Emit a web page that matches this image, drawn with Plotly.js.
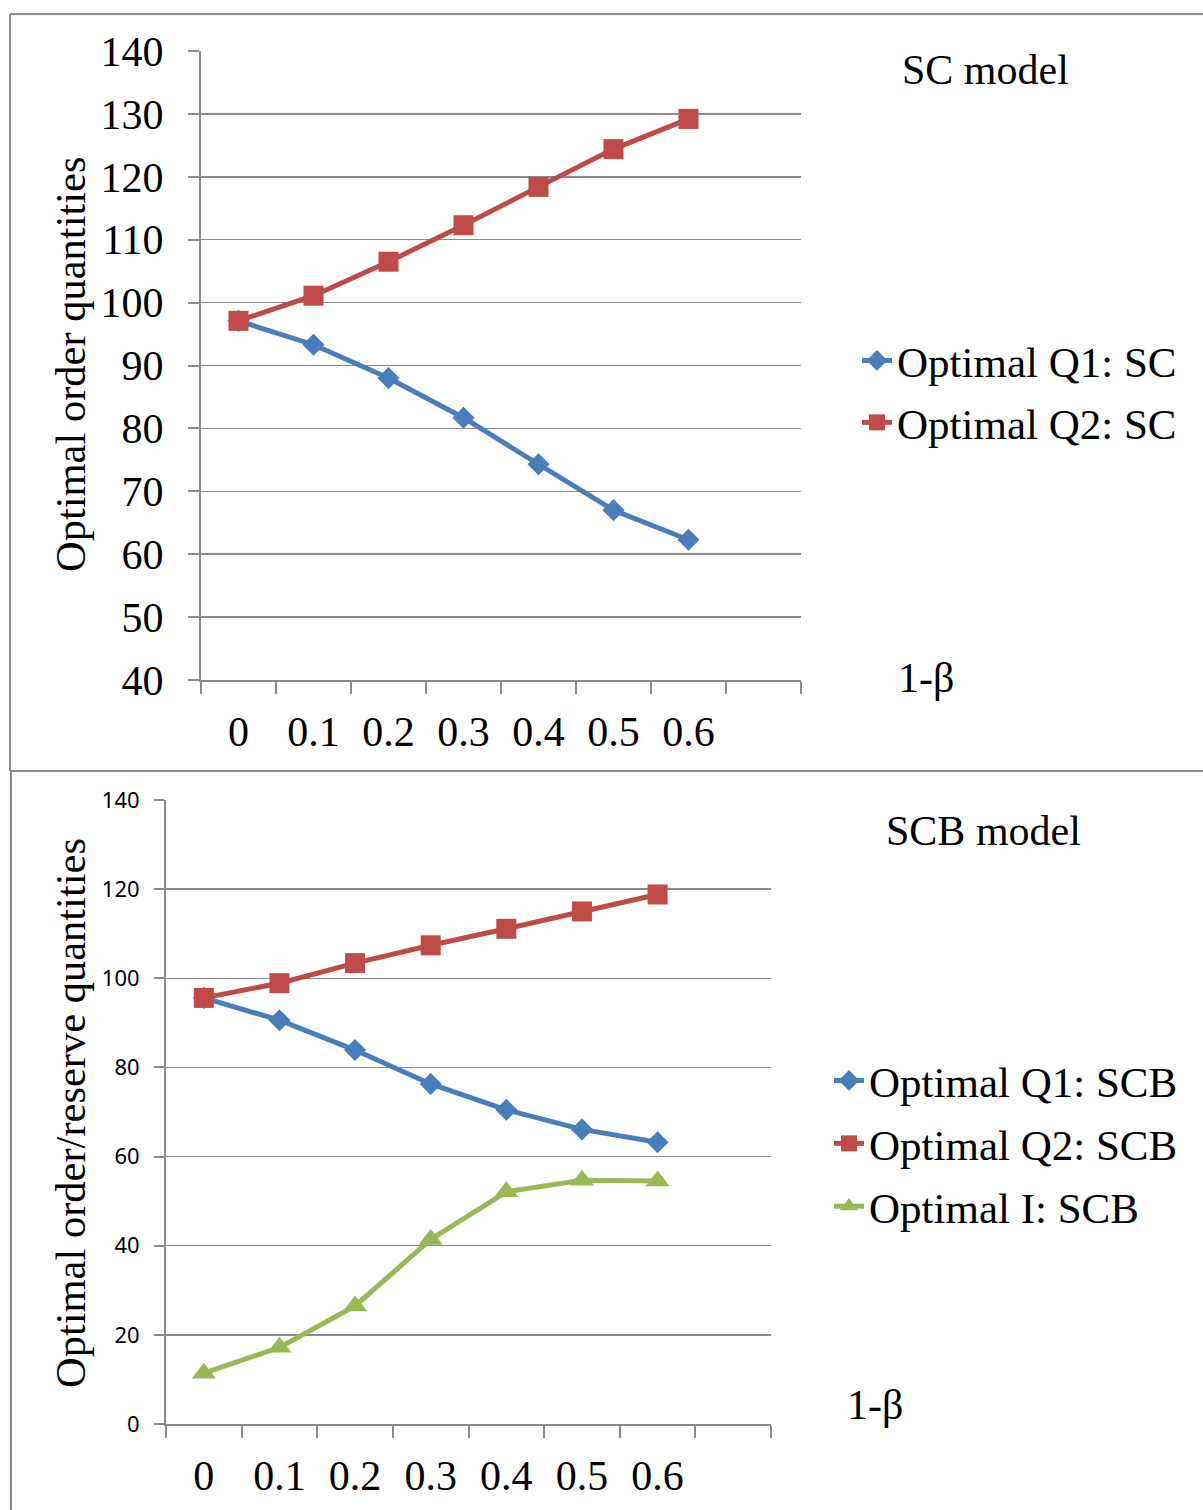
<!DOCTYPE html>
<html>
<head>
<meta charset="utf-8">
<script src="https://cdn.plot.ly/plotly-3.0.1.min.js"></script>
<style>
  html, body { margin: 0; padding: 0; background: #fff; }
  #chart { width: 1203px; height: 1510px; }
</style>
</head>
<body>
<div id="chart"></div>
<script>
// ---- data ----
const categories = ['0', '0.1', '0.2', '0.3', '0.4', '0.5', '0.6'];
const axisCategories = ['0', '0.1', '0.2', '0.3', '0.4', '0.5', '0.6', ' '];

const scQ1 = [97.1, 93.3, 88.0, 81.7, 74.3, 67.0, 62.3];
const scQ2 = [97.1, 101.1, 106.5, 112.3, 118.4, 124.4, 129.2];

const scbQ1 = [95.6, 90.6, 83.9, 76.3, 70.5, 66.1, 63.2];
const scbQ2 = [95.6, 98.9, 103.4, 107.4, 111.1, 115.0, 118.8];
const scbI  = [11.4, 17.2, 26.5, 41.4, 52.1, 54.7, 54.5];

const seriesNames = {
  scQ1: 'Optimal Q1: SC', scQ2: 'Optimal Q2: SC',
  scbQ1: 'Optimal Q1: SCB', scbQ2: 'Optimal Q2: SCB', scbI: 'Optimal I: SCB'
};
const yTitleTop = 'Optimal order quantities';
const yTitleBottom = 'Optimal order/reserve quantities';
const panelTitleTop = 'SC model';
const panelTitleBottom = 'SCB model';
const xLabel = '1-β';

// ---- styling ----
const W = 1203, H = 1510;
const BLUE = '#4A7EBB', RED = '#BE4B48', GREEN = '#98B954';
const GRAY = '#8C8C8C';
const SERIF = '"Liberation Serif", "Times New Roman", serif';
const SANS = '"Noto Sans", "Open Sans", sans-serif';

const px = v => v / W;
const py = v => 1 - v / H;

function tr(name, y, color, symbol, size, xa, ya, legend) {
  return {
    type: 'scatter', mode: 'lines+markers', name: name,
    x: categories, y: y, xaxis: xa, yaxis: ya, legend: legend,
    legendgroup: name,
    line: { color: color, width: 5 },
    marker: { color: color, symbol: symbol, size: size },
    cliponaxis: false
  };
}

const data = [
  tr(seriesNames.scQ1, scQ1, BLUE, 'diamond', 17, 'x', 'y', 'legend'),
  tr(seriesNames.scQ2, scQ2, RED, 'square', 20, 'x', 'y', 'legend'),
  tr(seriesNames.scbQ1, scbQ1, BLUE, 'diamond', 17, 'x2', 'y2', 'legend2'),
  tr(seriesNames.scbQ2, scbQ2, RED, 'square', 20, 'x2', 'y2', 'legend2'),
  tr(seriesNames.scbI, scbI, GREEN, 'triangle-up', 21, 'x2', 'y2', 'legend2')
];

function xAxis(domain, anchor) {
  return {
    domain: domain, anchor: anchor, type: 'category',
    categoryorder: 'array', categoryarray: axisCategories,
    range: [-0.5, 7.5], fixedrange: true,
    showgrid: false, zeroline: false,
    showline: true, linecolor: GRAY, linewidth: 2,
    ticks: 'outside', tickson: 'boundaries', ticklen: 12, tickwidth: 2, tickcolor: GRAY,
    tickfont: { family: SERIF, size: 42, color: '#000' },
    ticklabelstandoff: 14
  };
}

const layout = {
  width: W, height: H,
  margin: { l: 0, r: 0, t: 0, b: 0 },
  paper_bgcolor: '#fff', plot_bgcolor: '#fff',
  showlegend: true,
  xaxis: xAxis([px(201), px(801)], 'y'),
  yaxis: {
    domain: [py(680), py(51)], anchor: 'x',
    range: [40, 140], tick0: 40, dtick: 10, fixedrange: true,
    showgrid: true, gridcolor: GRAY, gridwidth: 1.5, zeroline: false,
    showline: true, linecolor: GRAY, linewidth: 2,
    ticks: 'outside', ticklen: 11, tickwidth: 2, tickcolor: GRAY,
    tickfont: { family: SERIF, size: 42, color: '#000' },
    ticklabelstandoff: 16
  },
  xaxis2: xAxis([px(166), px(771)], 'y2'),
  yaxis2: {
    domain: [py(1424), py(800)], anchor: 'x2',
    range: [0, 140], tick0: 0, dtick: 20, fixedrange: true,
    showgrid: true, gridcolor: GRAY, gridwidth: 1.5, zeroline: false,
    showline: true, linecolor: GRAY, linewidth: 2,
    ticks: 'outside', ticklen: 10, tickwidth: 2, tickcolor: GRAY,
    tickfont: { family: SANS, size: 22, color: '#000' },
    ticklabelstandoff: 10
  },
  legend: {
    x: px(857), y: py(326), xanchor: 'left', yanchor: 'top',
    bgcolor: 'rgba(0,0,0,0)', borderwidth: 0,
    font: { family: SERIF, size: 43, color: '#000' },
    tracegroupgap: 3, itemwidth: 30
  },
  legend2: {
    x: px(829), y: py(1046), xanchor: 'left', yanchor: 'top',
    bgcolor: 'rgba(0,0,0,0)', borderwidth: 0,
    font: { family: SERIF, size: 43, color: '#000' },
    tracegroupgap: 4, itemwidth: 30
  },
  annotations: [
    { text: panelTitleTop, xref: 'paper', yref: 'paper', x: px(986), y: py(70),
      xanchor: 'center', yanchor: 'middle', showarrow: false,
      font: { family: SERIF, size: 42, color: '#000' } },
    { text: xLabel, xref: 'paper', yref: 'paper', x: px(926), y: py(678),
      xanchor: 'center', yanchor: 'middle', showarrow: false,
      font: { family: SERIF, size: 42, color: '#000' } },
    { text: yTitleTop, xref: 'paper', yref: 'paper', x: px(70), y: py(365),
      xanchor: 'center', yanchor: 'middle', showarrow: false, textangle: -90,
      font: { family: SERIF, size: 42.5, color: '#000' } },
    { text: panelTitleBottom, xref: 'paper', yref: 'paper', x: px(983), y: py(831),
      xanchor: 'center', yanchor: 'middle', showarrow: false,
      font: { family: SERIF, size: 42, color: '#000' } },
    { text: xLabel, xref: 'paper', yref: 'paper', x: px(875), y: py(1405),
      xanchor: 'center', yanchor: 'middle', showarrow: false,
      font: { family: SERIF, size: 42, color: '#000' } },
    { text: yTitleBottom, xref: 'paper', yref: 'paper', x: px(70), y: py(1113),
      xanchor: 'center', yanchor: 'middle', showarrow: false, textangle: -90,
      font: { family: SERIF, size: 42.5, color: '#000' } }
  ],
  shapes: [
    { type: 'line', xref: 'paper', yref: 'paper', x0: px(10), x1: 1, y0: py(14), y1: py(14), line: { color: GRAY, width: 2 } },
    { type: 'line', xref: 'paper', yref: 'paper', x0: px(10), x1: px(10), y0: py(14), y1: py(771), line: { color: GRAY, width: 2 } },
    { type: 'line', xref: 'paper', yref: 'paper', x0: px(10), x1: 1, y0: py(771), y1: py(771), line: { color: GRAY, width: 2 } },
    { type: 'line', xref: 'paper', yref: 'paper', x0: px(11), x1: px(11), y0: py(771), y1: 0, line: { color: GRAY, width: 2 } }
  ]
};

Plotly.newPlot('chart', data, layout, { displayModeBar: false, staticPlot: true });
</script>
</body>
</html>
